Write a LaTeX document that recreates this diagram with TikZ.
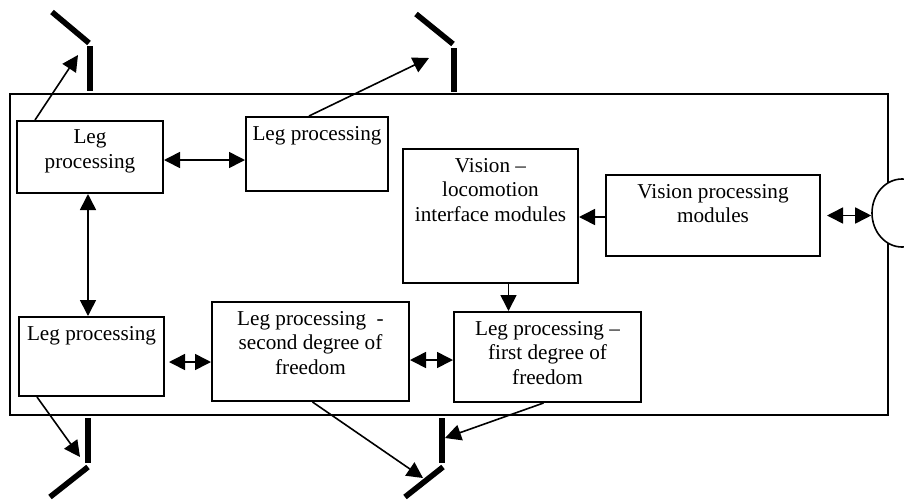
\documentclass[tikz,border=0pt]{standalone}
\usepackage{fontspec}
\setmainfont{Liberation Serif}
\usetikzlibrary{arrows.meta, positioning, shapes.geometric}

\begin{document}
\begin{tikzpicture}[x=0.5pt, y=-0.5pt,
    box/.style={draw, line width=1pt, inner sep=0pt},
    boxtext/.style={anchor=north, align=center, inner sep=2pt, yshift=-2.8pt,
        font=\fontsize{10.6}{12.3}\selectfont},
    link/.style={line width=0.8pt, -{Triangle[length=8pt, width=8pt]}},
    dbl/.style={line width=0.8pt, {Triangle[length=8pt, width=8pt]}-{Triangle[length=8pt, width=8pt]}},
    legbar/.style={line width=2.8pt}]
\useasboundingbox (0,0) rectangle (904,499);
\clip (0,0) rectangle (904,499);

% body and camera
\draw[line width=1pt] (10,94) rectangle (888,415);
\node[draw, ellipse, line width=0.8pt, fill=white, inner sep=0pt,
    minimum width=30pt, minimum height=34pt] (eye) at (902,213) {};

% processing modules
\node[box, minimum width=73pt, minimum height=36pt,
    label={[boxtext]north:{Leg\\processing}}] (legA) at (90,157) {};
\node[box, minimum width=71pt, minimum height=37pt,
    label={[boxtext]north:Leg processing}] (legB) at (317,154) {};
\node[box, minimum width=87.5pt, minimum height=67pt,
    label={[boxtext]north:{Vision --\\locomotion\\interface modules}}] (visloco) at (490.5,216) {};
\node[box, minimum width=107pt, minimum height=40.5pt,
    label={[boxtext]north:{Vision processing\\modules}}] (vispro) at (713,215.5) {};
\node[box, minimum width=72.5pt, minimum height=39.5pt,
    label={[boxtext]north:Leg processing}] (legC) at (91.5,356.5) {};
\node[box, minimum width=98.5pt, minimum height=49.5pt,
    label={[boxtext]north:{Leg processing\ \ -\\second degree of\\freedom}}] (legsecond) at (310.5,351.5) {};
\node[box, minimum width=93.5pt, minimum height=45pt,
    label={[boxtext]north:{Leg processing --\\first degree of\\freedom}}] (legfirst) at (547.5,357) {};

% legs
\draw[legbar] (90,46) -- (90,91);
\draw[legbar] (52,12) -- (89,43);
\draw[legbar] (454,48) -- (454,92);
\draw[legbar] (416,14) -- (453,44);
\draw[legbar] (88,418) -- (88,463);
\draw[legbar] (88,467) -- (50,497);
\draw[legbar] (442,418) -- (442,463);
\draw[legbar] (443,467) -- (405,497);

\coordinate (footA) at (78,55);
\coordinate (footB) at (429,58);
\coordinate (footC) at (80,457);
\coordinate (footD) at (423,478);
\coordinate (footE) at (445,438);

% motor outputs
\draw[link] ([xshift=9.5pt]legA.north west) -- (footA);
\draw[link] ([xshift=32pt]legB.north west) -- (footB);
\draw[link] ([xshift=9.5pt]legC.south west) -- (footC);
\draw[link] ([xshift=1pt]legsecond.south) -- (footD);
\draw[link] ([xshift=-2pt]legfirst.south) -- (footE);

% links between modules
\draw[dbl] ([yshift=-1.5pt]legA.east) -- ([yshift=-1.5pt]legA.east -| legB.west);
\draw[dbl] ([xshift=-1pt]legA.south) -- ([xshift=-1pt]legA.south |- legC.north);
\draw[dbl, shorten <=2pt] ([yshift=-2.75pt]legC.east) -- ([yshift=-2.75pt]legC.east -| legsecond.west);
\draw[dbl] ([yshift=-4.25pt]legsecond.east) -- ([yshift=-4.25pt]legsecond.east -| legfirst.west);
\draw[link] ([yshift=-0.75pt]vispro.west) -- ([yshift=-0.75pt]vispro.west -| visloco.east);
\draw[dbl, shorten <=3pt] (vispro.east) -- (vispro.east -| eye.west);
\draw[link] ([xshift=9pt]visloco.south) -- ([xshift=9pt]visloco.south |- legfirst.north);
\end{tikzpicture}
\end{document}
